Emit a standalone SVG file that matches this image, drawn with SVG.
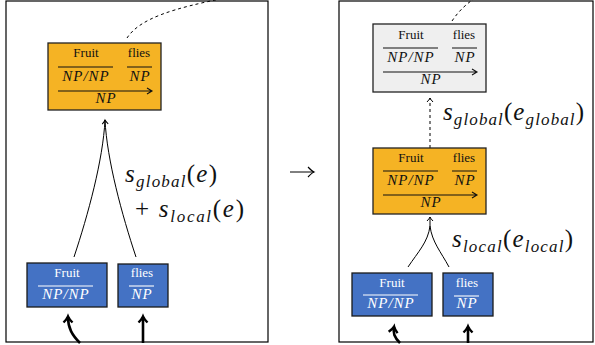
<svg xmlns="http://www.w3.org/2000/svg" width="595" height="345" viewBox="0 0 595 345">
<style>
.panel{fill:#fff;stroke:#000;stroke-width:1.2}
.orange{fill:#F5B324;stroke:#222;stroke-width:1.3}
.gray{fill:#EFEFEF;stroke:#222;stroke-width:1.3}
.blue{fill:#4472C4;stroke:#1a1a1a;stroke-width:1.3}
.w{font-family:"Liberation Serif",serif;font-size:13px;text-anchor:middle;fill:#111}
.m{font-family:"Liberation Serif",serif;font-style:italic;font-size:15px;text-anchor:middle;fill:#111;letter-spacing:1px}
.blue-t{fill:#fff}
.rule{stroke:#111;stroke-width:1.1;fill:none}
.rule-w{stroke:#fff;stroke-width:1.1;fill:none}
.lbl{font-family:"Liberation Serif",serif;font-size:25px;fill:#111}
.i{font-style:italic}
.conn{fill:none;stroke:#000;stroke-width:1}
.thick{fill:none;stroke:#000;stroke-width:2.6}
.dash{fill:none;stroke:#000;stroke-width:1;stroke-dasharray:3,3}
</style>
<defs>
<marker id="ah" markerUnits="userSpaceOnUse" markerWidth="12" markerHeight="12" refX="0" refY="0" viewBox="-6 -6 12 12" orient="auto" overflow="visible">
<path d="M-4,-3 Q-1.5,-0.6 0,0 Q-1.5,0.6 -4,3" fill="none" stroke="#000" stroke-width="1"/>
</marker>
<marker id="ahm" markerUnits="userSpaceOnUse" markerWidth="14" markerHeight="14" refX="0" refY="0" viewBox="-7 -7 14 14" orient="auto" overflow="visible">
<path d="M-6,-5 Q-2,-0.8 0,0 Q-2,0.8 -6,5" fill="none" stroke="#000" stroke-width="1.1"/>
</marker>
<marker id="ahb" markerUnits="userSpaceOnUse" markerWidth="14" markerHeight="14" refX="0" refY="0" viewBox="-7 -7 14 14" orient="auto" overflow="visible">
<path d="M-5.5,-4.5 Q-2,-1 0.5,0 Q-2,1 -5.5,4.5" fill="none" stroke="#000" stroke-width="2.4"/>
</marker>
</defs>

<rect class="panel" x="6" y="1" width="262" height="341"/>
<rect class="panel" x="339" y="1" width="254" height="341"/>

<g id="connectors">
  <path class="dash" d="M127,38 C140,18 175,8 225,-2"/>
  <path class="dash" d="M452,21 C458,12 465,5 475,-2"/>
  <path class="conn" d="M74,257 C88,215 103,160 105,120"/>
  <path class="conn" d="M136,257 C122,215 107,160 105,120" marker-end="url(#ah)"/>
  <path class="conn" d="M408,267 C418,252 428,242 430,226"/>
  <path class="conn" d="M449,267 C441,252 432,242 430,226 L430,217" marker-end="url(#ah)"/>
  <path class="dash" d="M430,148 L430,98" marker-end="url(#ah)"/>
  <path class="thick" d="M80,343 C72,335 68,328 68,317" marker-end="url(#ahb)"/>
  <path class="thick" d="M143,343 L143,317" marker-end="url(#ahb)"/>
  <path class="thick" d="M400,343 C394,337 393,333 394,327" marker-end="url(#ahb)"/>
  <path class="thick" d="M468,343 L468,327" marker-end="url(#ahb)"/>
  <path class="conn" d="M290,172 L314,172" marker-end="url(#ahm)"/>
</g>

<g id="left-combined" transform="translate(48,43)">
  <rect class="orange" x="0" y="0" width="113" height="67"/>
  <text class="w" x="38" y="14">Fruit</text>
  <text class="w" x="91" y="14">flies</text>
  <path class="rule" d="M10,24 H65 M79,24 H104"/>
  <text class="m" x="38" y="38">NP/NP</text>
  <text class="m" x="92" y="38">NP</text>
  <path class="rule" d="M10,48 H104 M99,45 L104,48 L99,51"/>
  <text class="m" x="58" y="60">NP</text>
</g>

<g id="right-global" transform="translate(373,24)">
  <rect class="gray" x="0" y="0" width="113" height="68"/>
  <text class="w" x="38" y="15">Fruit</text>
  <text class="w" x="91" y="15">flies</text>
  <path class="rule" d="M10,24 H65 M79,24 H104"/>
  <text class="m" x="38" y="38">NP/NP</text>
  <text class="m" x="92" y="38">NP</text>
  <path class="rule" d="M10,48 H104 M99,45 L104,48 L99,51"/>
  <text class="m" x="58" y="60">NP</text>
</g>

<g id="right-local" transform="translate(373,148)">
  <rect class="orange" x="0" y="0" width="113" height="66"/>
  <text class="w" x="38" y="14">Fruit</text>
  <text class="w" x="91" y="14">flies</text>
  <path class="rule" d="M10,23 H65 M79,23 H104"/>
  <text class="m" x="38" y="37">NP/NP</text>
  <text class="m" x="92" y="37">NP</text>
  <path class="rule" d="M10,47 H104 M99,44 L104,47 L99,50"/>
  <text class="m" x="58" y="59">NP</text>
</g>

<g id="left-fruit" transform="translate(27,263)">
  <rect class="blue" x="0" y="0" width="80" height="44"/>
  <text class="w blue-t" x="40" y="14">Fruit</text>
  <path class="rule-w" d="M11,23 H66"/>
  <text class="m blue-t" x="39" y="36">NP/NP</text>
</g>
<g id="left-flies" transform="translate(118,264)">
  <rect class="blue" x="0" y="0" width="50" height="43"/>
  <text class="w blue-t" x="24" y="13">flies</text>
  <path class="rule-w" d="M11,22 H36"/>
  <text class="m blue-t" x="24" y="35">NP</text>
</g>
<g id="right-fruit" transform="translate(352,273)">
  <rect class="blue" x="0" y="0" width="80" height="43"/>
  <text class="w blue-t" x="40" y="14">Fruit</text>
  <path class="rule-w" d="M11,22 H66"/>
  <text class="m blue-t" x="39" y="35">NP/NP</text>
</g>
<g id="right-flies" transform="translate(443,273)">
  <rect class="blue" x="0" y="0" width="50" height="43"/>
  <text class="w blue-t" x="24" y="14">flies</text>
  <path class="rule-w" d="M11,23 H36"/>
  <text class="m blue-t" x="24" y="35">NP</text>
</g>

<g id="labels">
  <text class="lbl" x="125" y="182" textLength="92" lengthAdjust="spacing"><tspan class="i">s</tspan><tspan class="i" font-size="17" dy="5">global</tspan><tspan dy="-5">(</tspan><tspan class="i">e</tspan>)</text>
  <text class="lbl" x="135" y="217" textLength="109" lengthAdjust="spacing">+ <tspan class="i">s</tspan><tspan class="i" font-size="17" dy="5">local</tspan><tspan dy="-5">(</tspan><tspan class="i">e</tspan>)</text>
  <text class="lbl" x="443" y="120" textLength="141" lengthAdjust="spacing"><tspan class="i">s</tspan><tspan class="i" font-size="17" dy="5">global</tspan><tspan dy="-5">(</tspan><tspan class="i">e</tspan><tspan class="i" font-size="17" dy="5">global</tspan><tspan dy="-5">)</tspan></text>
  <text class="lbl" x="452" y="247" textLength="121" lengthAdjust="spacing"><tspan class="i">s</tspan><tspan class="i" font-size="17" dy="5">local</tspan><tspan dy="-5">(</tspan><tspan class="i">e</tspan><tspan class="i" font-size="17" dy="5">local</tspan><tspan dy="-5">)</tspan></text>
</g>
</svg>
